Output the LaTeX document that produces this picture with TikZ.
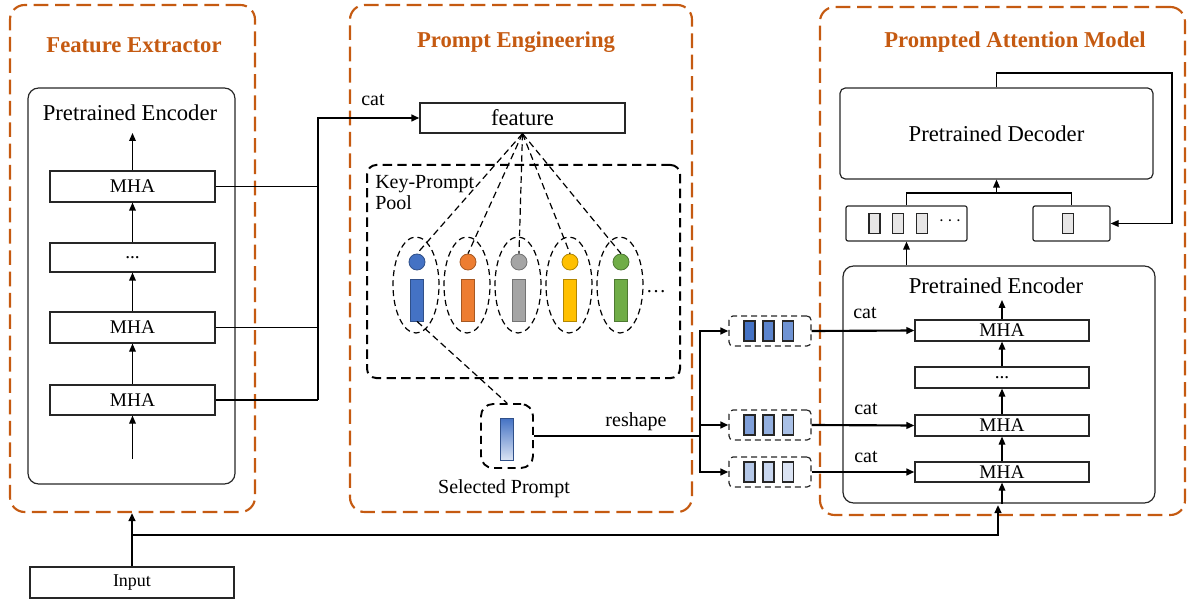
\documentclass[tikz,border=0pt]{standalone}
\usepackage{fontspec}
\setmainfont{Liberation Serif}
\usetikzlibrary{fit,arrows.meta,shapes.geometric,calc}
\definecolor{orgC}{HTML}{C55A11}
\definecolor{kblue}{HTML}{4472C4}
\definecolor{korange}{HTML}{ED7D31}
\definecolor{kgray}{HTML}{A5A5A5}
\definecolor{kyellow}{HTML}{FFC000}
\definecolor{kgreen}{HTML}{70AD47}
\definecolor{bA}{HTML}{4472C4}
\definecolor{bB}{HTML}{5B84CD}
\definecolor{bC}{HTML}{6F93D3}
\definecolor{bD}{HTML}{7F9FD9}
\definecolor{bE}{HTML}{93AFDF}
\definecolor{bF}{HTML}{A9C0E6}
\definecolor{bG}{HTML}{B4C7E7}
\definecolor{bH}{HTML}{C8D6EF}
\definecolor{bI}{HTML}{DAE3F3}
\definecolor{lgray}{HTML}{E7E6E6}
\tikzset{
  fbig/.style={font=\fontsize{17}{20}\selectfont},
  fmid/.style={font=\fontsize{15}{18}\selectfont},
  fmha/.style={font=\fontsize{14.5}{17}\selectfont},
  fsmall/.style={font=\fontsize{13.5}{16}\selectfont},
  ttl/.style={font=\fontsize{17}{20}\selectfont\bfseries, text=orgC},
  obox/.style={draw=orgC, line width=1.6pt, dash pattern=on 11pt off 5pt, rounded corners=11pt, inner sep=0pt},
  encbox/.style={draw=black!85, line width=0.9pt, rounded corners=8pt, inner sep=0pt},
  blk/.style={draw=black!85, line width=0.9pt, inner sep=0pt},
  thinarr/.style={line width=0.9pt, ->},
  conn/.style={line width=1.6pt},
  fan/.style={line width=0.9pt, dash pattern=on 5pt off 3pt},
  ell/.style={ellipse, draw, line width=0.9pt, dash pattern=on 4.5pt off 3pt, minimum width=34.5pt, minimum height=72pt, inner sep=0pt},
  kc/.style={circle, draw=#1!70!black, fill=#1, minimum size=12pt, inner sep=0pt, line width=0.6pt},
  kr/.style={rectangle, draw=#1!70!black, fill=#1, minimum width=9.75pt, minimum height=31.5pt, inner sep=0pt, line width=0.6pt},
  tok/.style={rectangle, draw=black!85, fill=#1, minimum width=8.25pt, minimum height=15pt, inner sep=0pt, line width=0.9pt},
  dbox/.style={draw=black!85, line width=0.9pt, dash pattern=on 4.5pt off 3pt, rounded corners=3pt, inner sep=0pt},
}
\begin{document}
\begin{tikzpicture}[x=0.75pt,y=-0.75pt, >={Triangle[length=6pt,width=5pt]}]
\useasboundingbox (0,0) rectangle (1190,599);

% ---------- orange group boxes ----------
\node[obox, fit={(10,5)(255,512)}] (fe) {};
\node[obox, fit={(350,5)(692,512)}] (pe) {};
\node[obox, fit={(820,7)(1185,515)}] (pam) {};
\node[ttl] (t1) at (134,45) {Feature Extractor};
\node[ttl] (t2) at (516,42) {Prompt Engineering};
\node[ttl] (t3) at (1015,42) {Prompted Attention Model};

% ---------- left encoder ----------
\node[encbox, fit={(28,88)(235,484)}] (enc1) {};
\node[fbig] (enc1t) at (130,113) {Pretrained Encoder};
\node[blk, fit={(50,171)(215,202)}, label={[fmha]center:MHA}] (ma) {};
\node[blk, fit={(50,243)(215,272)}, label={[fmha]center:...}] (mb) {};
\node[blk, fit={(50,312)(215,343)}, label={[fmha]center:MHA}] (mc) {};
\node[blk, fit={(50,385)(215,415)}, label={[fmha]center:MHA}] (md) {};
\coordinate (ain) at (132.5,459);
\coordinate (aout) at (132.5,133);
\draw[thinarr] (ain) -- (md.south);
\draw[thinarr] (md.north) -- (mc.south);
\draw[thinarr] (mc.north) -- (mb.south);
\draw[thinarr] (mb.north) -- (ma.south);
\draw[thinarr] (ma.north) -- (aout);

% ---------- feature ----------
\node[blk, fit={(420,103)(625,133)}, label={[fbig]center:feature}] (feat) {};
\coordinate (j1) at (318,118);
\draw[line width=1.4pt] (ma.east) -- (ma.east -| j1);
\draw[line width=1.4pt] (mc.east) -- (mc.east -| j1);
\draw[line width=1.4pt] (md.east) -- (md.east -| j1);
\draw[conn,->] (md.east -| j1) -- (j1) -- (feat.west);
\node[fmid] (cat0) at (373,100) {cat};

% ---------- key prompt pool ----------
\node[draw, line width=1.5pt, dash pattern=on 7pt off 4pt, rounded corners=7pt, inner sep=0pt, fit={(367,165)(680,378)}] (pool) {};
\node[fmid, anchor=north west, align=left, inner sep=0pt] (poolt) at (375,175) {Key-Prompt\\[-2pt]Pool};

\foreach \i/\x/\c in {1/417/kblue,2/468/korange,3/519/kgray,4/570/kyellow,5/621/kgreen}{
  \node[ell] (e\i) at (\x-1,285) {};
  \node[kc=\c] (k\i) at (\x,262) {};
  \node[kr=\c] (r\i) at (\x,300) {};
  \draw[fan] (feat.south) -- (k\i.north);
}
\node[fmid] (pdots) at (656,292) {\ldots};

% ---------- selected prompt ----------
\node[draw, line width=1.4pt, dash pattern=on 6pt off 4pt, rounded corners=9pt, inner sep=0pt, fit={(481,404)(533,468)}] (sp) {};
\node[draw=kblue!70!black, line width=0.6pt, top color=kblue, bottom color=bI, minimum width=9.75pt, minimum height=31.5pt, inner sep=0pt] (spr) at (506.5,439) {};
\draw[fan] (r1.south) -- (sp.north);
\node[fmid] (spt) at (504,489) {Selected Prompt};

% ---------- reshape ----------
\coordinate (j2) at (700,436);
\draw[conn] (sp.east) -- (j2);
\node[fmid] (resh) at (636,422) {reshape};
\node[dbox, fit={(729,316)(811,346)}] (p1) {};
\node[dbox, fit={(729,410)(811,440)}] (p2) {};
\node[dbox, fit={(729,457)(811,487)}] (p3) {};
\draw[conn,->] (j2) |- (p1.west);
\draw[conn,->] (j2) |- (p2.west);
\draw[conn,->] (j2) |- (p3.west);
\foreach \p/\ca/\cb/\cc in {p1/bA/bB/bC, p2/bD/bE/bF, p3/bG/bH/bI}{
  \node[tok=\ca] at ($(\p.center)+(-20.5,0)$) {};
  \node[tok=\cb] at ($(\p.center)+(-1.5,0)$) {};
  \node[tok=\cc] at ($(\p.center)+(18,0)$) {};
}

% ---------- right encoder ----------
\node[encbox, fit={(843,266)(1155,503)}] (enc2) {};
\node[fbig] (enc2t) at (996,286) {Pretrained Encoder};
\node[blk, fit={(915,320)(1089,341)}, label={[fmha]center:MHA}] (ra) {};
\node[blk, fit={(915,367)(1089,388)}, label={[fmha]center:...}] (rb2) {};
\node[blk, fit={(915,415)(1089,436)}, label={[fmha]center:MHA}] (rc) {};
\node[blk, fit={(915,462)(1089,482)}, label={[fmha]center:MHA}] (rd) {};
\coordinate (bout) at (1002,300);
\draw[thinarr] (rd.south |- enc2.south) -- (rd.south);
\draw[thinarr] (rd.north) -- (rc.south);
\draw[thinarr] (rc.north) -- (rb2.south);
\draw[thinarr] (rb2.north) -- (ra.south);
\draw[thinarr] (ra.north) -- (bout);
\draw[conn,->] (p1.east) -- (ra.west);
\draw[conn,->] (p2.east) -- (rc.west);
\draw[conn,->] (p3.east) -- (rd.west);
\node[fmid] (cat1) at (865,313) {cat};
\node[fmid] (cat2) at (866,409) {cat};
\node[fmid] (cat3) at (866,457) {cat};

% ---------- decoder ----------
\node[encbox, rounded corners=4pt, fit={(840,88)(1153,179)}, label={[fbig]center:Pretrained Decoder}] (dec) {};
\node[blk, rounded corners=1.5pt, fit={(846,206)(967,241)}] (lb) {};
\node[blk, rounded corners=1.5pt, fit={(1033,206)(1110,241)}] (rbx) {};
\node[tok=lgray] (g1) at (874.5,223.5) {};
\node[tok=lgray] (g2) at (898,223.5) {};
\node[tok=lgray] (g3) at (922,223.5) {};
\node[fmid] (gdots) at (950,221) {$\cdots$};
\node[tok=lgray] (g4) at (1068,223.5) {};
\draw[thinarr] (lb.south |- enc2.north) -- (lb.south);
\coordinate (mj) at (996.5,193);
\draw[line width=0.9pt] (lb.north) |- (mj) -| (rbx.north);
\draw[thinarr] (mj) -- (dec.south);
\coordinate (fb) at (1172,73);
\draw[thinarr] (dec.north) |- (fb) |- (rbx.east);

% ---------- input ----------
\node[blk, fit={(30,567)(234,598)}, label={[fsmall]center:Input}] (inp) {};
\draw[conn,->] (inp.north) -- (inp.north |- fe.south);
\coordinate (bj) at (132,535);
\draw[conn,->] (bj) -| (998,505);
\end{tikzpicture}
\end{document}
